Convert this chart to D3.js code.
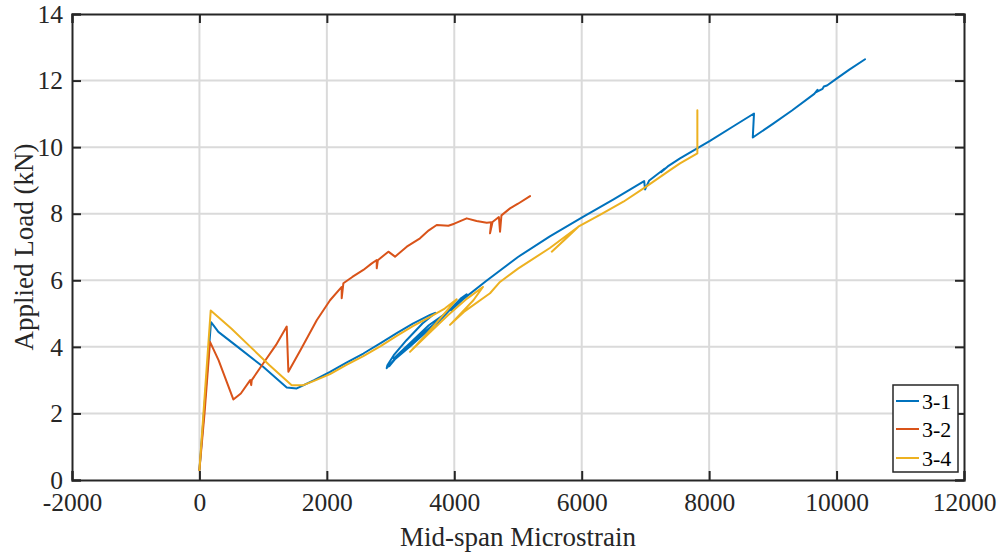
<!DOCTYPE html>
<html><head><meta charset="utf-8">
<script src="https://cdn.jsdelivr.net/npm/d3@7"></script>
<style>html,body{margin:0;padding:0;background:#fff;}svg{display:block;} text{font-family:'Liberation Serif','Times New Roman',serif;}</style>
</head><body>
<svg id="chart" width="1005" height="552"></svg>
<script>
const xTicks = [-2000, 0, 2000, 4000, 6000, 8000, 10000, 12000];
const yTicks = [0, 2, 4, 6, 8, 10, 12, 14];
const seriesNames = ["3-1", "3-2", "3-4"];
const seriesColors = ["#0072BD", "#D95319", "#EDB120"];

const s31x = [0,182,230,297,600,1000,1370,1527,1579,1800,2050,2300,2573,2850,3097,3350,3620,3700,3500,3250,3050,2950,2939,3050,3300,3600,3850,3650,3300,3050,2980,3100,3400,3750,3900,3600,3300,3050,3150,3500,3800,4000,4100,4195,4000,3950,4150,4500,5000,5500,6000,6500,6980,6995,7060,7300,7250,7350,7543,8013,8400,8704,8685,9000,9300,9650,9700,9680,9780,9800,9850,10000,10200,10447];
const s31y = [0.3,4.74,4.62,4.45,4.0,3.4,2.78,2.75,2.80,3.0,3.25,3.52,3.8,4.12,4.41,4.7,4.96,5.02,4.7,4.2,3.75,3.45,3.36,3.6,4.05,4.55,4.95,4.6,4.0,3.6,3.42,3.7,4.2,4.75,5.05,4.65,4.1,3.65,3.8,4.4,4.85,5.25,5.45,5.58,5.2,5.1,5.45,5.98,6.7,7.32,7.88,8.43,8.98,8.73,9.0,9.35,9.25,9.42,9.66,10.19,10.65,11.01,10.29,10.7,11.1,11.6,11.72,11.65,11.75,11.82,11.85,12.06,12.33,12.64];

const s32x = [0,80,166,300,532,650,797,813,821,1000,1200,1370,1396,1600,1841,2050,2233,2233,2259,2400,2573,2700,2783,2783,2800,2965,3070,3254,3462,3600,3724,3907,4000,4195,4350,4509,4580,4561,4600,4700,4718,4740,4875,5000,5189];
const s32y = [0.3,2.0,4.15,3.6,2.42,2.6,3.0,2.85,3.0,3.5,4.05,4.61,3.25,3.95,4.8,5.4,5.8,5.46,5.91,6.1,6.31,6.5,6.61,6.36,6.6,6.86,6.71,7.01,7.26,7.5,7.66,7.64,7.7,7.86,7.78,7.73,7.74,7.41,7.75,7.9,7.46,7.95,8.16,8.3,8.53];

const s34x = [0,177,500,800,1100,1448,1631,1800,2050,2300,2573,2850,3097,3350,3620,3850,4038,3800,3550,3305,3600,3900,4200,4450,4300,4100,3933,4150,4561,4717,5000,5500,5947,5530,5750,5947,6300,6654,7000,7386,7543,7815,7815];
const s34y = [0.3,5.09,4.55,4.0,3.45,2.85,2.85,2.98,3.18,3.45,3.72,4.03,4.33,4.62,4.9,5.15,5.43,4.9,4.35,3.85,4.4,4.95,5.45,5.8,5.4,5.0,4.66,5.05,5.61,5.95,6.35,6.97,7.61,6.86,7.25,7.61,7.98,8.36,8.8,9.31,9.51,9.81,11.11];

const seriesX = [s31x, s32x, s34x];
const seriesY = [s31y, s32y, s34y];

const svg = d3.select("#chart");
const L = 72, R = 964, T = 14, B = 480;
const x = d3.scaleLinear().domain([-2000, 12000]).range([L, R]);
const y = d3.scaleLinear().domain([0, 14]).range([B, T]);
const font = "'Liberation Serif','Times New Roman',serif";
const axisColor = "#262626";
const fmt = d => String(d);

// grid
const grid = svg.append("g");
grid.selectAll("line.vx").data(xTicks.slice(1, -1)).enter().append("line")
  .attr("x1", d => x(d)).attr("x2", d => x(d)).attr("y1", T).attr("y2", B)
  .attr("stroke", "#dadada").attr("stroke-width", 2);
grid.selectAll("line.hy").data(yTicks.slice(1, -1)).enter().append("line")
  .attr("y1", d => y(d)).attr("y2", d => y(d)).attr("x1", L).attr("x2", R)
  .attr("stroke", "#dadada").attr("stroke-width", 2);

// series lines
const line = d3.line().x(d => x(d[0])).y(d => y(d[1]));
seriesX.forEach((xs, i) => {
  const pts = xs.map((v, j) => [v, seriesY[i][j]]);
  svg.append("path").datum(pts).attr("d", line)
    .attr("fill", "none").attr("stroke", seriesColors[i])
    .attr("stroke-width", 2).attr("stroke-linejoin", "round").attr("stroke-linecap", "round");
});

// axes via d3 axis
const tl = 9;
const gB = svg.append("g").attr("transform", `translate(0,${B})`)
  .call(d3.axisBottom(x).tickValues(xTicks).tickSize(-tl).tickPadding(14).tickFormat(fmt));
const gT = svg.append("g").attr("transform", `translate(0,${T})`)
  .call(d3.axisTop(x).tickValues(xTicks).tickSize(-tl).tickFormat(""));
const gL = svg.append("g").attr("transform", `translate(${L},0)`)
  .call(d3.axisLeft(y).tickValues(yTicks).tickSize(-tl).tickPadding(9).tickFormat(fmt));
const gR = svg.append("g").attr("transform", `translate(${R},0)`)
  .call(d3.axisRight(y).tickValues(yTicks).tickSize(-tl).tickFormat(""));
[gB, gT, gL, gR].forEach(g => {
  g.attr("font-family", font).attr("font-size", 25.5);
  g.select(".domain").attr("stroke", axisColor).attr("stroke-width", 2);
  g.selectAll(".tick line").attr("stroke", axisColor).attr("stroke-width", 2);
  g.selectAll(".tick text").attr("fill", axisColor).attr("font-family", font).attr("font-size", 25.5);
});
gB.selectAll(".tick text").attr("dy", "0.68em");

// axis titles
svg.append("text").attr("x", (L + R) / 2).attr("y", 546).attr("text-anchor", "middle")
  .attr("font-family", font).attr("font-size", 27).attr("fill", axisColor)
  .text("Mid-span Microstrain");
svg.append("text").attr("transform", `translate(33,${(T + B) / 2}) rotate(-90)`).attr("text-anchor", "middle")
  .attr("font-family", font).attr("font-size", 27).attr("fill", axisColor)
  .text("Applied Load (kN)");

// legend
const lg = svg.append("g");
lg.append("rect").attr("x", 893).attr("y", 385).attr("width", 65).attr("height", 87)
  .attr("fill", "#fff").attr("stroke", axisColor).attr("stroke-width", 1.5);
const rowsY = [401, 429, 458];
seriesNames.forEach((n, i) => {
  lg.append("line").attr("x1", 896).attr("x2", 919).attr("y1", rowsY[i]).attr("y2", rowsY[i])
    .attr("stroke", seriesColors[i]).attr("stroke-width", 2);
  lg.append("text").attr("x", 922).attr("y", rowsY[i]).attr("dy", "0.35em")
    .attr("font-family", font).attr("font-size", 22).attr("fill", "#000").text(n);
});
</script>
</body></html>
